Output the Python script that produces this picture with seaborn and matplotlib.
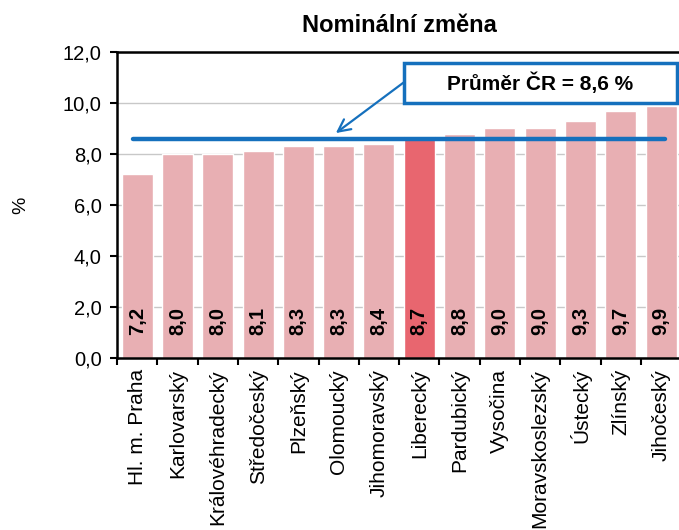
import matplotlib
matplotlib.use("Agg")
import matplotlib.pyplot as plt
from matplotlib.patches import Rectangle
import seaborn as sns
import pandas as pd
import numpy as np

regions = ["Hl. m. Praha", "Karlovarský", "Královéhradecký", "Středočeský",
           "Plzeňský", "Olomoucký", "Jihomoravský", "Liberecký", "Pardubický",
           "Vysočina", "Moravskoslezský", "Ústecký", "Zlínský", "Jihočeský"]
values = [7.2, 8.0, 8.0, 8.1, 8.3, 8.3, 8.4, 8.7, 8.8, 9.0, 9.0, 9.3, 9.7, 9.9]
highlight = "Liberecký"
mean_cr = 8.6
y_ticks = [0, 2, 4, 6, 8, 10, 12]

BLUE = "#1570bd"

sns.set_theme(style="white")
plt.rcParams['font.family'] = ['Liberation Sans', 'DejaVu Sans']
plt.rcParams['text.color'] = 'black'
plt.rcParams['axes.labelcolor'] = 'black'
plt.rcParams['xtick.color'] = 'black'
plt.rcParams['ytick.color'] = 'black'

df = pd.DataFrame({"region": regions, "value": values})
palette = {r: ("#E8666F" if r == highlight else "#E8AFB3") for r in regions}

fig = plt.figure(figsize=(6.79, 5.3), dpi=100)
ax = fig.add_axes([0.1723, 0.3245, 0.831, 0.5775])

ax.yaxis.grid(True, color="#c8c8c8", linewidth=1)
ax.set_axisbelow(True)
sns.barplot(data=df, x="region", y="value", hue="region", palette=palette,
            width=0.77, saturation=1, legend=False, ax=ax)

ax.set_ylim(0, 12)
ax.set_xlim(-0.5, len(regions) - 0.5)
ax.set_yticks(y_ticks)
ax.set_yticklabels([f"{v:.1f}".replace(".", ",") for v in y_ticks], fontsize=14.5)
ax.set_xticks(range(len(regions)))
ax.set_xticklabels(regions, rotation=90, fontsize=15)
ax.tick_params(axis="x", length=0, pad=8)
ax.set_xticks(np.arange(-0.5, len(regions), 1), minor=True)
ax.tick_params(axis="x", which="minor", length=5, width=1.5, color="black",
               direction="out", bottom=True)
ax.tick_params(axis="y", length=5, width=1.5, color="black", direction="out",
               left=True, pad=6)
ax.set_xlabel("")
ax.set_ylabel("%", fontsize=14)
ax.yaxis.set_label_coords(-0.155, 0.5)

for s in ["left", "bottom", "top"]:
    ax.spines[s].set_color("black")
    ax.spines[s].set_linewidth(1.8)
ax.spines["right"].set_visible(False)

for i, v in enumerate(values):
    ax.text(i, 1.45, f"{v:.1f}".replace(".", ","), rotation=90, ha="center",
            va="center", fontsize=14.5, fontweight="bold", color="black")

ax.plot([-0.1, 13.1], [mean_cr, mean_cr], color=BLUE, linewidth=3.2,
        solid_capstyle="round", zorder=5)

# callout box with the national average
ax.add_patch(Rectangle((6.61, 10.0), 6.79, 1.57, fc="white", ec=BLUE, lw=2.5,
                       zorder=6, clip_on=False))
ax.text(10.0, 10.78, "Průměr ČR = 8,6 %", ha="center", va="center",
        fontsize=15, fontweight="bold", zorder=7)
ax.annotate("", xy=(4.93, 8.82), xytext=(6.61, 10.8),
            arrowprops=dict(arrowstyle="->", color=BLUE, lw=1.6,
                            mutation_scale=22, shrinkA=0, shrinkB=0),
            zorder=6)

ax.set_title("Nominální změna", fontsize=17, fontweight="bold", pad=14)

fig.savefig("out.png", dpi=100)
plt.close()
